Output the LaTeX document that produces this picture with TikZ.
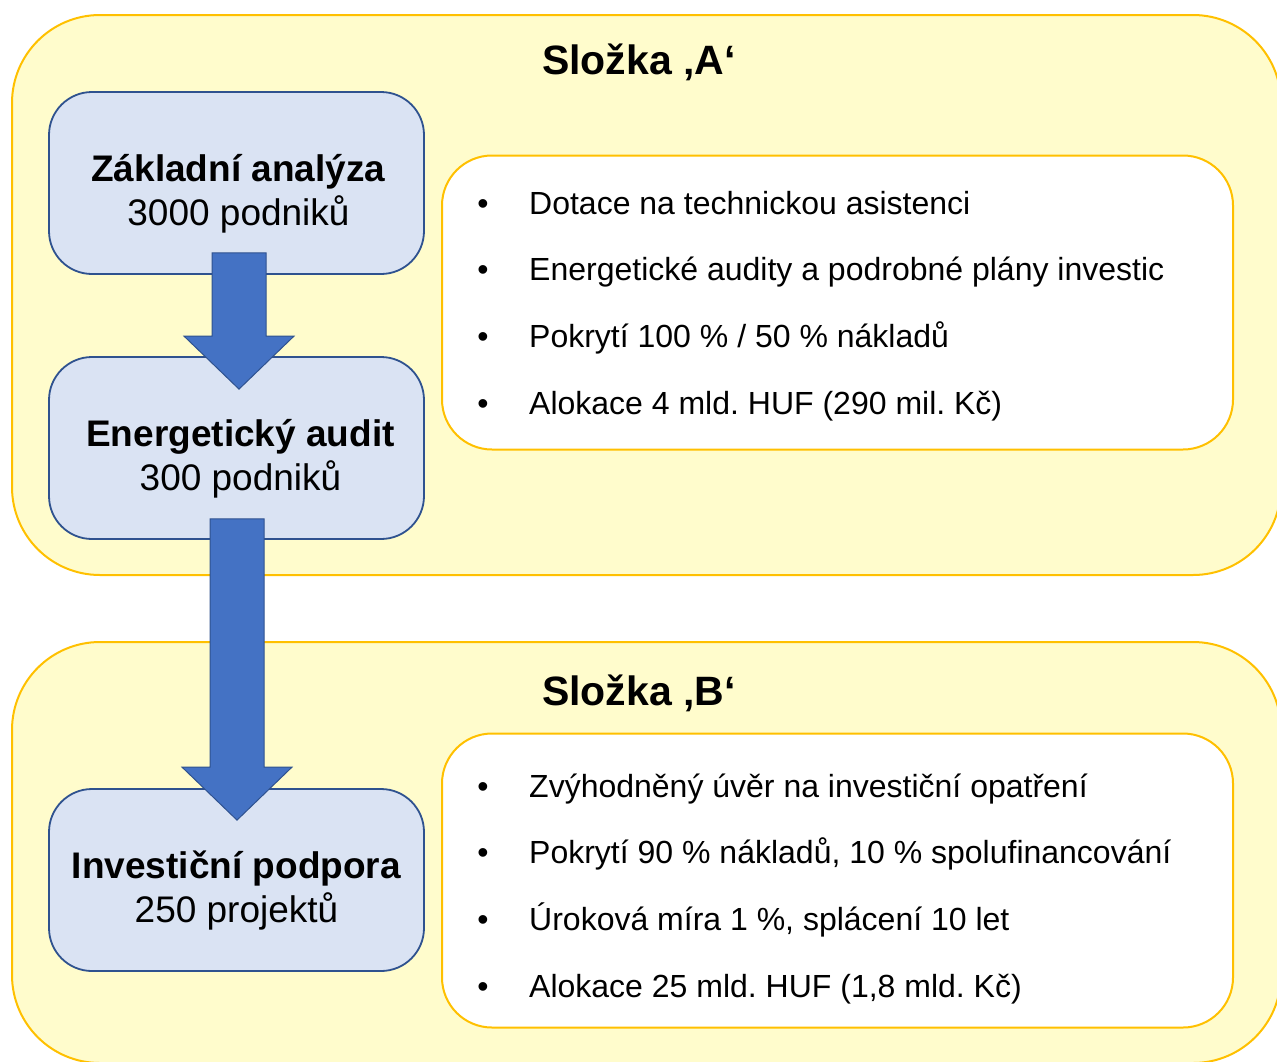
\documentclass[tikz,border=0pt]{standalone}
\usepackage{fontspec}
\setmainfont{Liberation Sans}
\usetikzlibrary{calc,positioning}
\frenchspacing

\definecolor{zluta}{HTML}{FFFCCC}
\definecolor{zlata}{HTML}{FFC000}
\definecolor{svetlemodra}{HTML}{DAE3F3}
\definecolor{modra}{HTML}{2F528F}
\definecolor{sipkamodra}{HTML}{4472C4}

% block arrow: flat top at #1, tip at #2
\newcommand\sipka[2]{%
  \filldraw[sipka] ($(#1)+(-27,0)$) -- ($(#1)+(27,0)$) -- ($(#2)+(27,-53)$)
    -- ($(#2)+(55,-53)$) -- (#2) -- ($(#2)+(-55,-53)$) -- ($(#2)+(-27,-53)$) -- cycle;}

\begin{document}
\begin{tikzpicture}[x=1pt,y=-1pt,
  slozka/.style={draw=zlata,fill=zluta,line width=2pt,rounded corners=88pt},
  seznam/.style={draw=zlata,fill=white,line width=2pt,rounded corners=50pt,
    minimum width=791pt,minimum height=294pt},
  krok/.style={draw=modra,fill=svetlemodra,line width=1.8pt,rounded corners=43pt,
    minimum width=375pt,minimum height=182pt},
  popis/.style={align=center,inner sep=0pt,font=\fontsize{37}{44}\selectfont},
  nadpis/.style={anchor=base,font=\fontsize{41}{48}\selectfont\bfseries},
  polozka/.style={anchor=base west,inner sep=0pt,font=\fontsize{32}{38}\selectfont},
  tecka/.style={anchor=base,inner sep=0pt,font=\fontsize{32}{38}\selectfont},
  sipka/.style={draw=modra,fill=sipkamodra,line width=1pt,line join=miter}]
  \useasboundingbox (0,0) rectangle (1277,1061);
  \clip (0,0) rectangle (1277,1061);

  % the two panels
  \draw[slozka] (12,15) rectangle (1281,575);
  \draw[slozka] (12,642) rectangle (1281,1063);
  \node[nadpis] (slozkaA) at (639,74) {Složka ‚A‘};
  \node[nadpis] (slozkaB) at (639,705) {Složka ‚B‘};

  % lists
  \node[seznam] (seznamA) at (837.5,302.5) {};
  \node[seznam] (seznamB) at (837.5,880.5) {};
  \foreach \t [count=\i] in {Dotace na technickou asistenci,
      Energetické audity a podrobné plány investic,
      Pokrytí 100 \% / 50 \% nákladů,
      Alokace 4 mld. HUF (290 mil. Kč)}{
    \node[tecka] (ta\i) at (483,{214+66.7*(\i-1)}) {•};
    \node[polozka] (pa\i) at (529,{214+66.7*(\i-1)}) {\t};
  }
  \foreach \t [count=\i] in {Zvýhodněný úvěr na investiční opatření,
      {Pokrytí 90 \% nákladů, 10 \% spolufinancování},
      {Úroková míra 1 \%, splácení 10 let},
      {Alokace 25 mld. HUF (1,8 mld. Kč)}}{
    \node[tecka] (tb\i) at (483,{797+66.7*(\i-1)}) {•};
    \node[polozka] (pb\i) at (529,{797+66.7*(\i-1)}) {\t};
  }

  % steps
  \node[krok] (analyza) at (236.5,183) {};
  \node[krok] (audit) at (236.5,448) {};
  \node[krok] (podpora) at (236.5,880) {};
  \node[popis] (analyzaT) at ($(analyza)+(2,11)$) {\textbf{Základní analýza}\\3000 podniků};
  \node[popis] (auditT) at ($(audit)+(4,11)$) {\textbf{Energetický audit}\\300 podniků};
  \node[popis] (podporaT) at ($(podpora)+(0,11)$) {\textbf{Investiční podpora}\\250 projektů};

  \coordinate (s1) at ($(analyza.south)+(2.5,-22)$);
  \coordinate (h1) at ($(audit.north)+(2.5,33)$);
  \coordinate (s2) at ($(audit.south)+(0.5,-21)$);
  \coordinate (h2) at ($(podpora.north)+(0.5,32)$);
  \sipka{s1}{h1}
  \sipka{s2}{h2}
\end{tikzpicture}
\end{document}
